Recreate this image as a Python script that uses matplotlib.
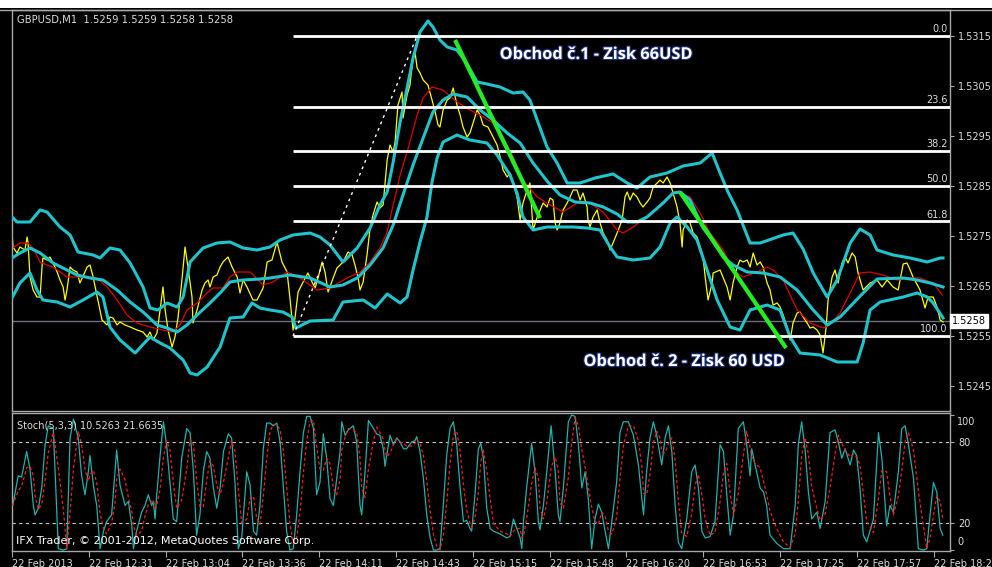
import matplotlib
matplotlib.use("Agg")
import matplotlib.pyplot as plt
import matplotlib.patheffects as pe
import matplotlib.transforms as mtransforms
from matplotlib.patches import Rectangle

# ---------------- data (x = bar index on the M1 chart) ----------------
symbol_header = "GBPUSD,M1  1.5259 1.5259 1.5258 1.5258"
stoch_header = "Stoch(5,3,3) 10.5263 21.6635"
copyright_text = "IFX Trader, \u00a9 2001-2012, MetaQuotes Software Corp."
trade1_text = "Obchod \u010d.1 - Zisk 66USD"
trade2_text = "Obchod \u010d. 2 - Zisk 60 USD"

time_tick_bars = [0, 32, 64, 96, 128, 160, 192, 224, 256, 288, 320, 352, 384]
time_labels = ["22 Feb 2013", "22 Feb 12:31", "22 Feb 13:04", "22 Feb 13:36",
               "22 Feb 14:11", "22 Feb 14:43", "22 Feb 15:15", "22 Feb 15:48",
               "22 Feb 16:20", "22 Feb 16:53", "22 Feb 17:25", "22 Feb 17:57",
               "22 Feb 18:29"]
price_ticks = [1.5315, 1.5305, 1.5295, 1.5285, 1.5275, 1.5265, 1.5255, 1.5245]
current_price = 1.5258

price_x = [0.0, 0.4, 2.1, 3.3, 5.4, 6.3, 6.7, 7.5, 8.8, 10.4,
           11.7, 12.5, 12.9, 14.6, 15.8, 17.1, 18.8, 20.0, 21.3, 22.1,
           22.9, 24.2, 25.4, 27.1, 28.3, 31.3, 32.5, 33.8, 35.8, 37.5,
           39.6, 40.8, 42.1, 43.8, 45.0, 47.1, 49.2, 52.1, 54.6, 56.3,
           57.5, 58.8, 60.4, 61.7, 62.9, 63.8, 65.0, 66.7, 67.9, 69.2,
           70.8, 72.1, 73.3, 75.0, 75.4, 77.1, 79.2, 80.4, 81.7, 82.5,
           83.8, 85.4, 86.7, 87.9, 90.0, 91.7, 93.8, 95.0, 96.3, 97.9,
           100.4, 102.1, 104.6, 106.3, 108.3, 110.4, 112.5, 114.6, 115.8, 117.1,
           117.9, 119.2, 121.3, 123.3, 125.0, 126.3, 127.5, 129.2, 130.4, 131.7,
           133.8, 135.4, 136.7, 137.9, 140.0, 141.7, 142.9, 144.2, 145.0, 146.3,
           147.9, 149.2, 150.4, 152.1, 153.3, 154.6, 156.3, 157.5, 158.8, 159.6,
           160.8, 162.5, 162.9, 164.6, 165.8, 167.1, 167.9, 168.8, 170.0, 171.3,
           173.3, 175.0, 176.3, 177.5, 178.3, 179.6, 181.3, 182.5, 183.8, 185.4,
           186.7, 187.9, 189.6, 190.8, 192.1, 193.8, 195.0, 196.3, 198.3, 200.0,
           202.1, 203.3, 204.6, 206.3, 207.5, 208.8, 210.4, 211.7, 212.9, 214.6,
           215.8, 217.1, 218.8, 221.3, 222.9, 224.2, 225.4, 226.3, 227.1, 228.3,
           229.6, 231.3, 232.5, 233.8, 235.4, 236.7, 237.9, 239.6, 240.0, 240.8,
           242.1, 243.8, 245.0, 246.3, 247.9, 249.2, 250.4, 252.1, 254.2, 255.4,
           256.3, 257.5, 258.8, 260.4, 261.7, 262.9, 264.6, 265.8, 267.1, 268.8,
           270.0, 271.3, 272.9, 274.2, 275.4, 277.1, 278.3, 279.2, 279.6, 281.3,
           282.5, 283.8, 285.4, 286.7, 287.9, 288.8, 290.0, 291.7, 292.1, 295.0,
           297.9, 299.2, 300.4, 302.1, 303.3, 304.6, 306.3, 307.5, 308.8, 310.4,
           311.7, 312.9, 314.6, 315.8, 317.1, 318.8, 320.0, 321.3, 322.9, 324.2,
           325.4, 327.1, 328.3, 329.6, 331.3, 332.5, 333.8, 335.4, 336.7, 337.5,
           337.9, 339.2, 340.0, 341.7, 342.9, 344.2, 345.8, 347.1, 348.3, 350.0,
           351.3, 352.5, 354.6, 357.5, 360.4, 362.5, 364.6, 367.1, 369.2, 371.3,
           372.9, 374.2, 375.4, 378.3, 380.4, 381.7, 383.8, 385.4, 386.7, 387.9]
price_close = [1.52758, 1.52728, 1.52716, 1.52728, 1.52722, 1.52748, 1.52736, 1.52668, 1.52642, 1.52628,
               1.52628, 1.52688, 1.52706, 1.52702, 1.52708, 1.52696, 1.52678, 1.52662, 1.52648, 1.52622,
               1.52642, 1.52688, 1.52682, 1.52678, 1.52656, 1.52688, 1.52692, 1.52668, 1.52622, 1.52582,
               1.52572, 1.52588, 1.52586, 1.52572, 1.52578, 1.52572, 1.52568, 1.52562, 1.52558, 1.52548,
               1.52558, 1.52542, 1.52556, 1.52602, 1.52648, 1.52602, 1.52562, 1.52528, 1.52548, 1.52588,
               1.52662, 1.52728, 1.52688, 1.52628, 1.52576, 1.52602, 1.52642, 1.52656, 1.52662, 1.52648,
               1.52668, 1.52672, 1.52688, 1.52698, 1.52708, 1.52688, 1.52668, 1.52636, 1.52662, 1.52648,
               1.52622, 1.52622, 1.52646, 1.52698, 1.52702, 1.52738, 1.52698, 1.52678, 1.52626, 1.52562,
               1.52586, 1.52638, 1.52658, 1.52676, 1.52658, 1.52646, 1.52666, 1.52698, 1.52678, 1.52638,
               1.52666, 1.52686, 1.52692, 1.52698, 1.52718, 1.52712, 1.52692, 1.52666, 1.52642, 1.52658,
               1.52712, 1.52766, 1.52792, 1.52818, 1.52806, 1.52812, 1.52902, 1.52932, 1.52918, 1.52938,
               1.53012, 1.53038, 1.52986, 1.53032, 1.53052, 1.53106, 1.53118, 1.53086, 1.53076, 1.53062,
               1.53052, 1.53022, 1.52998, 1.52972, 1.52968, 1.53002, 1.53022, 1.53026, 1.53046, 1.53012,
               1.52992, 1.52968, 1.52948, 1.52956, 1.52976, 1.53002, 1.52992, 1.52972, 1.52968, 1.52952,
               1.52932, 1.52910, 1.52882, 1.52868, 1.52876, 1.52856, 1.52828, 1.52782, 1.52816, 1.52842,
               1.52856, 1.52762, 1.52788, 1.52816, 1.52808, 1.52826, 1.52822, 1.52776, 1.52762, 1.52776,
               1.52802, 1.52816, 1.52828, 1.52842, 1.52842, 1.52822, 1.52836, 1.52808, 1.52782, 1.52768,
               1.52788, 1.52802, 1.52776, 1.52756, 1.52742, 1.52722, 1.52736, 1.52756, 1.52782, 1.52828,
               1.52838, 1.52822, 1.52836, 1.52828, 1.52816, 1.52808, 1.52818, 1.52826, 1.52848, 1.52856,
               1.52862, 1.52856, 1.52868, 1.52856, 1.52836, 1.52808, 1.52776, 1.52728, 1.52762, 1.52782,
               1.52776, 1.52756, 1.52748, 1.52728, 1.52708, 1.52668, 1.52622, 1.52656, 1.52676, 1.52682,
               1.52648, 1.52622, 1.52656, 1.52688, 1.52702, 1.52698, 1.52702, 1.52688, 1.52716, 1.52692,
               1.52698, 1.52688, 1.52656, 1.52642, 1.52612, 1.52616, 1.52608, 1.52592, 1.52568, 1.52542,
               1.52576, 1.52596, 1.52598, 1.52588, 1.52576, 1.52566, 1.52568, 1.52562, 1.52552, 1.52528,
               1.52516, 1.52568, 1.52622, 1.52668, 1.52682, 1.52656, 1.52696, 1.52708, 1.52696, 1.52716,
               1.52708, 1.52676, 1.52642, 1.52656, 1.52662, 1.52648, 1.52662, 1.52648, 1.52642, 1.52694,
               1.52696, 1.52682, 1.52668, 1.52642, 1.52606, 1.52628, 1.52628, 1.52608, 1.52582, 1.52578]

ma_x = [0.4, 3.3, 6.7, 8.8, 11.7, 14.6, 17.1, 20.0, 22.9, 28.3,
        32.5, 35.4, 39.6, 43.8, 47.9, 52.1, 57.5, 62.9, 67.1, 70.0,
        72.9, 77.1, 81.3, 83.8, 87.9, 90.8, 93.8, 99.2, 104.6, 108.8,
        114.6, 120.0, 127.1, 132.5, 139.6, 145.0, 149.2, 153.3, 156.3, 158.8,
        161.7, 165.8, 168.8, 171.3, 175.0, 179.6, 185.4, 190.8, 195.0, 200.4,
        204.6, 208.8, 212.9, 218.8, 224.2, 229.6, 235.4, 240.8, 246.3, 252.1,
        254.6, 258.8, 264.6, 268.8, 272.9, 277.1, 282.5, 286.7, 290.8, 296.3,
        300.4, 304.6, 310.4, 314.6, 317.1, 321.3, 327.1, 332.5, 337.9, 340.8,
        345.0, 349.2, 353.3, 357.5, 362.9, 368.8, 374.2, 378.3, 383.8, 387.5]
ma_y = [1.52726, 1.52736, 1.52736, 1.52726, 1.52698, 1.52692, 1.52688, 1.52678, 1.52668, 1.52668,
        1.52668, 1.52666, 1.52648, 1.52622, 1.52592, 1.52576, 1.52568, 1.52562, 1.52558, 1.52572,
        1.52602, 1.52616, 1.52636, 1.52646, 1.52646, 1.52668, 1.52678, 1.52678, 1.52652, 1.52658,
        1.52678, 1.52666, 1.52642, 1.52646, 1.52666, 1.52678, 1.52698, 1.52726, 1.52758, 1.52812,
        1.52872, 1.52938, 1.52992, 1.53026, 1.53048, 1.53042, 1.53018, 1.53002, 1.52992, 1.52976,
        1.52948, 1.52908, 1.52862, 1.52828, 1.52812, 1.52798, 1.52816, 1.52816, 1.52798, 1.52762,
        1.52756, 1.52768, 1.52788, 1.52806, 1.52826, 1.52838, 1.52828, 1.52796, 1.52756, 1.52722,
        1.52682, 1.52668, 1.52678, 1.52688, 1.52682, 1.52662, 1.52602, 1.52576, 1.52566, 1.52572,
        1.52596, 1.52636, 1.52676, 1.52678, 1.52672, 1.52662, 1.52666, 1.52666, 1.52656, 1.52632]

bb_upper_x = [0.0, 2.1, 7.5, 11.7, 14.6, 20.0, 24.2, 27.5, 33.8, 36.7,
              40.8, 45.0, 49.2, 54.6, 57.5, 60.8, 64.6, 68.8, 71.3, 74.2,
              79.6, 85.4, 90.8, 96.3, 102.1, 107.5, 111.7, 117.1, 124.2, 128.3,
              132.5, 137.9, 143.8, 149.2, 153.3, 156.3, 158.8, 161.7, 164.6, 167.1,
              170.0, 173.3, 175.4, 178.3, 181.3, 185.4, 189.6, 193.8, 197.9, 203.3,
              208.8, 212.9, 215.8, 218.8, 222.9, 227.1, 231.3, 236.7, 242.9, 250.4,
              256.3, 260.4, 265.8, 272.9, 279.6, 286.7, 291.7, 295.0, 298.3, 302.1,
              307.5, 311.7, 321.3, 325.4, 329.6, 333.8, 339.6, 343.8, 349.2, 353.3,
              357.5, 360.4, 367.1, 374.2, 381.3, 386.7, 387.9]
bb_upper = [1.52788, 1.52778, 1.52778, 1.52802, 1.52798, 1.52768, 1.52752, 1.52718, 1.52712, 1.52706,
            1.52726, 1.52722, 1.52696, 1.52648, 1.52606, 1.52602, 1.52616, 1.52608, 1.52628, 1.52698,
            1.52726, 1.52736, 1.52738, 1.52726, 1.52722, 1.52728, 1.52742, 1.52752, 1.52756, 1.52748,
            1.52732, 1.52698, 1.52726, 1.52766, 1.52812, 1.52838, 1.52898, 1.52978, 1.53046, 1.53106,
            1.53158, 1.53180, 1.53168, 1.53142, 1.53128, 1.53122, 1.53094, 1.53058, 1.53054, 1.53048,
            1.53036, 1.53038, 1.53022, 1.52982, 1.52928, 1.52896, 1.52856, 1.52856, 1.52866, 1.52874,
            1.52856, 1.52846, 1.52868, 1.52876, 1.52890, 1.52896, 1.52916, 1.52876, 1.52838, 1.52802,
            1.52736, 1.52736, 1.52752, 1.52756, 1.52724, 1.52676, 1.52628, 1.52662, 1.52736, 1.52764,
            1.52752, 1.52722, 1.52712, 1.52706, 1.52698, 1.52706, 1.52706]

bb_mid_x = [0.0, 3.3, 7.5, 11.7, 17.1, 22.9, 27.1, 32.5, 37.9, 43.8,
            49.2, 54.6, 60.4, 64.6, 68.8, 72.9, 77.1, 82.5, 86.7, 90.8,
            96.3, 103.3, 107.5, 115.8, 124.2, 132.5, 137.9, 143.8, 149.2, 154.6,
            158.8, 162.9, 167.1, 171.3, 175.4, 179.6, 183.8, 189.6, 195.0, 200.4,
            206.3, 211.7, 217.1, 222.9, 228.3, 234.6, 240.8, 246.3, 252.1, 256.3,
            260.4, 264.6, 271.3, 275.4, 278.3, 282.5, 287.9, 290.8, 296.3, 300.4,
            306.3, 312.9, 320.0, 327.1, 333.8, 339.6, 345.0, 354.6, 360.4, 371.3,
            377.1, 382.5, 387.9]
bb_mid = [1.52706, 1.52716, 1.52726, 1.52716, 1.52696, 1.52682, 1.52672, 1.52666, 1.52662, 1.52642,
          1.52618, 1.52598, 1.52572, 1.52566, 1.52558, 1.52572, 1.52592, 1.52616, 1.52636, 1.52658,
          1.52662, 1.52664, 1.52666, 1.52672, 1.52666, 1.52648, 1.52652, 1.52666, 1.52692, 1.52726,
          1.52772, 1.52832, 1.52892, 1.52946, 1.52998, 1.53022, 1.53034, 1.53028, 1.53002, 1.52982,
          1.52956, 1.52936, 1.52896, 1.52860, 1.52832, 1.52818, 1.52816, 1.52808, 1.52794, 1.52778,
          1.52778, 1.52788, 1.52816, 1.52836, 1.52838, 1.52822, 1.52766, 1.52748, 1.52708, 1.52692,
          1.52678, 1.52676, 1.52668, 1.52642, 1.52602, 1.52572, 1.52588, 1.52636, 1.52664, 1.52666,
          1.52662, 1.52656, 1.52648]

bb_lower_x = [0.0, 3.3, 7.5, 10.4, 12.9, 18.8, 24.2, 29.6, 35.4, 37.9,
              40.8, 45.0, 51.3, 57.5, 61.7, 65.8, 71.3, 74.2, 77.1, 81.3,
              86.7, 90.8, 96.3, 100.0, 103.3, 107.5, 112.9, 116.7, 118.3, 124.2,
              133.8, 137.9, 146.3, 151.3, 156.3, 161.7, 164.6, 167.1, 170.0, 172.9,
              175.0, 177.1, 179.6, 185.4, 190.8, 197.9, 202.1, 207.5, 210.4, 212.9,
              217.1, 222.9, 233.8, 239.6, 245.0, 249.2, 252.1, 258.8, 265.8, 270.0,
              274.2, 277.1, 281.3, 285.4, 289.6, 293.8, 299.2, 303.3, 307.5, 314.6,
              320.0, 324.2, 328.3, 336.7, 343.8, 352.1, 354.6, 357.5, 361.7, 371.3,
              377.1, 381.3, 383.8, 387.9]
bb_lower = [1.52626, 1.52656, 1.52676, 1.52642, 1.52622, 1.52618, 1.52608, 1.52622, 1.52638, 1.52628,
            1.52568, 1.52542, 1.52516, 1.52548, 1.52536, 1.52526, 1.52502, 1.52476, 1.52472, 1.52488,
            1.52528, 1.52586, 1.52588, 1.52616, 1.52606, 1.52602, 1.52598, 1.52588, 1.52566, 1.52580,
            1.52582, 1.52618, 1.52622, 1.52606, 1.52634, 1.52616, 1.52628, 1.52682, 1.52738, 1.52788,
            1.52858, 1.52906, 1.52938, 1.52952, 1.52942, 1.52936, 1.52912, 1.52872, 1.52836, 1.52788,
            1.52762, 1.52768, 1.52768, 1.52766, 1.52762, 1.52728, 1.52708, 1.52702, 1.52706, 1.52728,
            1.52776, 1.52788, 1.52768, 1.52742, 1.52682, 1.52622, 1.52568, 1.52562, 1.52602, 1.52612,
            1.52602, 1.52548, 1.52516, 1.52512, 1.52498, 1.52498, 1.52536, 1.52602, 1.52618, 1.52628,
            1.52636, 1.52628, 1.52616, 1.52586]

# Fibonacci retracement object
fib_levels = [0.0, 23.6, 38.2, 50.0, 61.8, 100.0]
fib_low = 1.5255
fib_high = 1.5315
fib_low_bar = 117.1
fib_high_bar = 168.75

# hand-drawn trade trend lines
trade1_x = [184.6, 220.0]
trade1_y = [1.53142, 1.52786]
trade2_x = [278.3, 322.5]
trade2_y = [1.52838, 1.52526]

stoch_x = [0.3, 2.6, 4.0, 6.1, 7.5, 8.9, 9.6, 11.0, 12.4, 13.8,
           15.1, 17.2, 19.3, 21.4, 22.8, 24.2, 25.6, 27.6, 29.0, 30.4,
           31.8, 32.5, 33.9, 35.3, 36.7, 38.1, 39.4, 41.5, 42.9, 43.6,
           45.0, 47.1, 48.5, 49.9, 50.6, 51.9, 54.0, 55.4, 56.8, 58.2,
           58.9, 59.6, 60.3, 61.7, 63.1, 64.4, 65.8, 67.2, 68.6, 70.7,
           72.8, 74.2, 75.6, 76.9, 78.3, 79.7, 81.1, 82.5, 83.9, 85.3,
           86.7, 88.1, 90.1, 91.5, 92.9, 94.3, 95.7, 97.8, 99.2, 100.6,
           101.9, 103.3, 104.7, 106.1, 107.5, 108.9, 110.3, 111.7, 113.1, 114.4,
           115.8, 117.2, 118.6, 120.0, 121.4, 122.8, 124.2, 125.6, 126.9, 128.3,
           129.7, 131.1, 132.5, 133.9, 135.3, 136.7, 137.4, 138.8, 140.1, 142.2,
           143.6, 145.0, 145.7, 147.1, 148.5, 150.6, 151.9, 153.3, 154.7, 155.4,
           156.1, 157.5, 158.9, 160.3, 161.7, 163.1, 164.4, 166.5, 167.9, 168.6,
           170.0, 171.4, 172.8, 174.2, 175.6, 176.9, 178.3, 179.7, 181.1, 182.5,
           183.9, 185.3, 186.7, 188.1, 189.4, 190.8, 191.5, 192.9, 194.3, 195.3,
           196.4, 197.8, 199.2, 200.6,
           203.3, 206.1, 207.5, 208.9, 210.3, 211.7, 212.4, 213.1, 214.4, 216.5,
           217.9, 219.3, 220.0, 221.4, 222.8, 224.6, 226.3, 227.6, 228.3, 229.7,
           231.8, 233.2, 234.6, 236.0, 237.4, 238.8, 240.1, 241.5, 242.9, 244.3,
           245.7, 247.1, 248.5, 249.9, 251.9, 253.3, 254.7, 256.8, 258.9, 261.0,
           262.4, 263.1, 264.4, 265.8, 267.2, 268.6, 270.0, 270.7, 272.1, 273.5,
           274.9, 276.3, 277.6, 279.0, 281.1, 283.2, 284.6, 286.0, 287.4, 288.8,
           290.8, 292.9, 295.0, 296.4, 297.8, 299.2, 300.6, 302.6, 304.7, 306.1,
           307.5, 308.2, 309.6, 311.7, 313.1, 314.4, 315.8, 318.6, 321.4, 324.2,
           326.3, 327.6, 329.0, 330.4, 331.8, 333.2, 335.3, 336.7, 338.8, 340.8,
           342.9, 344.3, 345.7, 347.1, 349.2, 350.6, 351.9, 353.3, 354.7, 356.1,
           358.9, 361.0, 362.4, 364.4, 365.8, 367.2, 369.3, 370.7, 372.1, 373.5,
           375.6, 377.6, 379.7, 381.1, 382.5, 383.9, 385.3, 386.7, 387.8]
stoch_main = [33, 55, 54, 73, 60, 33, 26, 31, 46, 78,
              92, 90, 1, 0, 1, 83, 97, 83, 55, 41,
              58, 70, 48, 33, 1, 14, 21, 26, 58, 74,
              48, 33, 36, 18, 1, 14, 28, 33, 41, 33,
              36, 23, 41, 70, 95, 78, 50, 23, 21, 68,
              90, 87, 58, 11, 26, 58, 73, 68, 46, 31,
              46, 73, 86, 83, 50, 1, 9, 58, 48, 14,
              11, 33, 75, 94, 94, 92, 94, 80, 46, 14,
              0, 1, 26, 58, 87, 99, 99, 90, 41, 50,
              86, 68, 38, 33, 53, 73, 95, 85, 89, 92,
              80, 33, 26, 58, 96, 90, 86, 85, 75, 62,
              70, 85, 78, 83, 80, 75, 75, 80, 81, 84,
              73, 53, 26, 9, 0, 0, 1, 33, 70, 90,
              95, 78, 46, 21, 22, 16, 14, 41, 75, 79,
              68, 31, 16, 14,
              12, 9, 10, 23, 16, 9, 1, 21, 46, 79,
              58, 21, 15, 33, 58, 92, 58, 26, 21, 46,
              95, 100, 99, 78, 46, 58, 38, 1, 23, 34,
              28, 14, 1, 21, 50, 87, 95, 95, 85, 63,
              38, 26, 58, 83, 95, 85, 70, 63, 83, 92,
              73, 33, 6, 1, 23, 58, 63, 46, 14, 9,
              10, 21, 78, 73, 41, 11, 26, 90, 95, 78,
              55, 75, 63, 46, 43, 33, 11, 5, 1, 1,
              33, 78, 95, 75, 43, 23, 28, 16, 36, 87,
              89, 80, 68, 75, 63, 74, 70, 46, 11, 6,
              23, 87, 68, 18, 33, 28, 58, 90, 92, 78,
              53, 1, 0, 1, 26, 50, 43, 16, 11]
stoch_signal = [33, 44, 47, 61, 62, 55, 40, 30, 34, 52,
                72, 87, 61, 30, 1, 28, 60, 88, 78, 60,
                51, 56, 59, 50, 27, 16, 12, 20, 35, 53,
                60, 52, 39, 29, 18, 11, 14, 25, 34, 36,
                37, 31, 33, 45, 69, 81, 74, 50, 31, 37,
                60, 82, 78, 52, 32, 32, 52, 66, 62, 48,
                41, 50, 68, 81, 73, 45, 20, 23, 38, 40,
                24, 19, 40, 67, 88, 93, 93, 89, 73, 47,
                20, 5, 9, 28, 57, 81, 95, 96, 77, 60,
                59, 68, 64, 46, 41, 53, 74, 84, 90, 89,
                87, 68, 46, 39, 60, 81, 91, 87, 82, 74,
                69, 72, 78, 82, 80, 79, 77, 77, 79, 82,
                79, 70, 51, 29, 12, 3, 0, 11, 35, 64,
                85, 88, 73, 48, 30, 20, 17, 24, 43, 65,
                74, 59, 38, 20,
                14, 12, 10, 14, 16, 16, 9, 10, 23, 49,
                61, 53, 31, 23, 35, 61, 69, 59, 35, 31,
                54, 80, 98, 92, 74, 61, 47, 32, 21, 19,
                28, 25, 14, 12, 24, 53, 77, 92, 92, 81,
                62, 42, 41, 56, 79, 88, 83, 73, 72, 79,
                83, 66, 37, 13, 10, 27, 48, 56, 41, 23,
                11, 13, 36, 57, 64, 42, 26, 42, 70, 88,
                76, 69, 64, 61, 51, 41, 29, 16, 6, 2,
                12, 37, 69, 83, 71, 47, 31, 22, 27, 46,
                71, 85, 79, 74, 69, 71, 69, 63, 42, 21,
                13, 39, 59, 58, 40, 26, 40, 59, 80, 87,
                74, 44, 18, 1, 9, 26, 40, 36, 23]
stoch_levels = [20, 80]

# ---------------- figure ----------------
W, H = 992, 567
BG = "black"
CYAN = "#1fc4cc"
GRID = "#a8a8a8"
TXT = "#dcdcdc"

fig = plt.figure(figsize=(W / 100, H / 100), dpi=100, facecolor=BG)
fig.add_artist(Rectangle((0, 1 - 8 / H), 1, 8 / H, transform=fig.transFigure,
                         facecolor="white", edgecolor="none", zorder=0))
fig.add_artist(plt.Line2D([0, 1], [1 - 9.5 / H] * 2, transform=fig.transFigure,
                          color=GRID, lw=1))

L = 12 / W
PW = 938 / W
ax = fig.add_axes([L, 1 - 411 / H, PW, 401 / H], facecolor=BG)
ax2 = fig.add_axes([L, 1 - 551 / H, PW, 138 / H], facecolor=BG)

XMAX = 390.8
for a in (ax, ax2):
    a.set_xlim(0, XMAX)
    for s in a.spines.values():
        s.set_color(GRID)
        s.set_linewidth(1)
ax.set_ylim(1.52400, 1.53202)
ax2.set_ylim(-0.7, 101.5)

# current price line
ax.axhline(current_price, color="#70707a", lw=1, zorder=1)

# price, MA, Bollinger
ax.plot(price_x, price_close, color="#ffff00", lw=0.9, zorder=2)
ax.plot(ma_x, ma_y, color="#e00000", lw=0.9, zorder=2.5)
for bx, by in ((bb_upper_x, bb_upper), (bb_mid_x, bb_mid), (bb_lower_x, bb_lower)):
    ax.plot(bx, by, color=CYAN, lw=2.2, zorder=3, solid_joinstyle="round")

# Fibonacci
ax.plot([fib_low_bar, fib_high_bar], [fib_low, fib_high], color="white", lw=1,
        ls=(0, (2, 3)), zorder=4)
for lvl in fib_levels:
    p = fib_high - lvl / 100 * (fib_high - fib_low)
    ax.hlines(p, fib_low_bar, XMAX, color="white", lw=2, zorder=4)
    ax.annotate(f"{lvl:.1f}", (XMAX, p), xytext=(-1.5, 1.2), textcoords="offset points",
                ha="right", va="bottom", color=TXT, fontsize=7, zorder=6)

# trade trend lines
ax.plot(trade1_x, trade1_y, color="#22ee22", lw=3.0, zorder=7, solid_capstyle="butt")
ax.plot(trade2_x, trade2_y, color="#22ee22", lw=3.0, zorder=7, solid_capstyle="butt")

outline = [pe.withStroke(linewidth=1.6, foreground="#1c2f7a")]
ax.text(0.6226, 0.8878, trade1_text, transform=ax.transAxes, ha="center", va="center",
        color="white", fontsize=11.8, fontweight="bold", family="Open Sans",
        path_effects=outline, zorder=8)
ax.text(0.7164, 0.1222, trade2_text, transform=ax.transAxes, ha="center", va="center",
        color="white", fontsize=11.8, fontweight="bold", family="Open Sans",
        path_effects=outline, zorder=8)

ax.text(0.0053, 0.975, symbol_header, transform=ax.transAxes, ha="left", va="center",
        color=TXT, fontsize=7.2)

# right price axis
ax.yaxis.tick_right()
ax.set_yticks(price_ticks)
ax.set_yticklabels([f"{t:.4f}" for t in price_ticks])
ax.tick_params(axis="y", colors=GRID, labelcolor=TXT, labelsize=7, length=3,
               direction="out", pad=3)
ax.tick_params(axis="x", bottom=False, labelbottom=False)

trans = mtransforms.blended_transform_factory(ax.transAxes, ax.transData)
ax.text(1.0025, current_price, f"{current_price:.4f}", transform=trans, ha="left",
        va="center", fontsize=7, color="black", zorder=9, clip_on=False,
        bbox=dict(boxstyle="square,pad=0.22", fc="white", ec="white"))

# stochastic panel
for lv in stoch_levels:
    ax2.axhline(lv, color="#c8c8c8", lw=0.8, ls=(0, (3, 3)), zorder=1)
ax2.plot(stoch_x, stoch_main, color="#20b2aa", lw=0.9, zorder=3)
ax2.plot(stoch_x, stoch_signal, color="#ff1a1a", lw=0.9, ls=(0, (2.5, 2)), zorder=4)
ax2.text(0.0053, 0.906, stoch_header, transform=ax2.transAxes, ha="left", va="center",
         color=TXT, fontsize=7, zorder=6)
ax2.text(0.004, 0.072, copyright_text, transform=ax2.transAxes, ha="left", va="center",
         color="white", fontsize=8, zorder=6)

ax2.yaxis.tick_right()
ax2.set_yticks([0, 20, 80, 100])
ax2.set_yticklabels(["", "20", "80", ""])
ax2.tick_params(axis="y", colors=GRID, labelcolor=TXT, labelsize=7, length=3,
                direction="out", pad=3)
trans2 = mtransforms.blended_transform_factory(ax2.transAxes, ax2.transData)
ax2.text(1.0075, 94.8, "100", transform=trans2, ha="left", va="center", color=TXT, fontsize=7)
ax2.text(1.0075, 5.9, "0", transform=trans2, ha="left", va="center", color=TXT, fontsize=7)

ax2.set_xticks(time_tick_bars)
ax2.set_xticklabels(time_labels, ha="left")
ax2.tick_params(axis="x", colors=GRID, labelcolor=TXT, labelsize=7, length=4,
                direction="out", pad=1.5)

fig.savefig("out.png", dpi=100, facecolor=BG)
